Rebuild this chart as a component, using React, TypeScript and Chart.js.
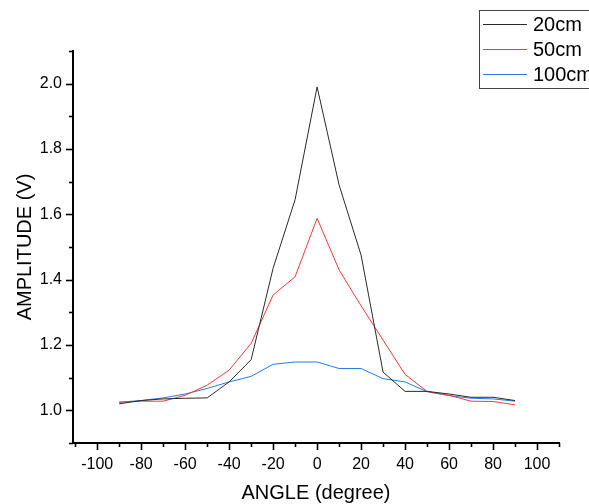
import React, { useEffect, useRef } from "react";
import { Chart, registerables } from "chart.js";

Chart.register(...registerables);

const angles = [-90, -80, -70, -60, -50, -40, -30, -20, -10, 0, 10, 20, 30, 40, 50, 60, 70, 80, 90];
const amp20cm = [1.02, 1.03, 1.035, 1.037, 1.038, 1.087, 1.155, 1.435, 1.645, 1.99, 1.69, 1.475, 1.117, 1.058, 1.058, 1.05, 1.04, 1.04, 1.03];
const amp50cm = [1.025, 1.028, 1.028, 1.046, 1.077, 1.123, 1.205, 1.353, 1.409, 1.588, 1.43, 1.32, 1.215, 1.11, 1.058, 1.046, 1.028, 1.027, 1.017];
const amp100cm = [1.025, 1.03, 1.038, 1.05, 1.067, 1.087, 1.104, 1.141, 1.148, 1.148, 1.128, 1.128, 1.097, 1.087, 1.057, 1.045, 1.037, 1.035, 1.028];

const seriesLabels = ["20cm", "50cm", "100cm"];
const seriesColors = ["#2a2a2a", "#f23a3a", "#2a7be8"];

const xMajorTicks = [-100, -80, -60, -40, -20, 0, 20, 40, 60, 80, 100];
const xMinorTicks = [-110, -90, -70, -50, -30, -10, 10, 30, 50, 70, 90, 110];
const yMajorTicks = [1.0, 1.2, 1.4, 1.6, 1.8, 2.0];
const yMinorTicks = [0.9, 1.1, 1.3, 1.5, 1.7, 1.9, 2.1];

const FONT = "'Liberation Sans', Arial, sans-serif";

const axisTicksPlugin = {
  id: "axisTicks",
  afterDraw(chart: any) {
    const { ctx, chartArea } = chart;
    const xs = chart.scales.x;
    const ys = chart.scales.y;
    ctx.save();
    ctx.strokeStyle = "#000";
    ctx.lineWidth = 1.6;
    const drawX = (vals: number[], len: number) => {
      vals.forEach((v) => {
        const px = Math.round(xs.getPixelForValue(v)) + 0.5;
        ctx.beginPath();
        ctx.moveTo(px, chartArea.bottom);
        ctx.lineTo(px, chartArea.bottom + len);
        ctx.stroke();
      });
    };
    const drawY = (vals: number[], len: number) => {
      vals.forEach((v) => {
        const py = Math.round(ys.getPixelForValue(v)) + 0.5;
        ctx.beginPath();
        ctx.moveTo(chartArea.left, py);
        ctx.lineTo(chartArea.left - len, py);
        ctx.stroke();
      });
    };
    drawX(xMajorTicks, 7);
    drawX(xMinorTicks, 4);
    drawY(yMajorTicks, 7);
    drawY(yMinorTicks, 4);
    ctx.restore();
  },
};

const legendBoxPlugin = {
  id: "legendBox",
  afterDraw(chart: any) {
    const { ctx } = chart;
    ctx.save();
    const left = 479.5;
    const top = 10.5;
    ctx.strokeStyle = "#444";
    ctx.lineWidth = 1;
    ctx.strokeRect(left, top, 140, 78);
    ctx.font = `20px ${FONT}`;
    ctx.textBaseline = "middle";
    ctx.textAlign = "left";
    chart.data.datasets.forEach((ds: any, i: number) => {
      const y = 24.5 + i * 25;
      ctx.strokeStyle = ds.borderColor;
      ctx.lineWidth = 1;
      ctx.beginPath();
      ctx.moveTo(483, y);
      ctx.lineTo(527, y);
      ctx.stroke();
      ctx.fillStyle = "#000";
      ctx.fillText(ds.label, 533, y + 1);
    });
    ctx.restore();
  },
};

export default function App() {
  const canvasRef = useRef<HTMLCanvasElement | null>(null);

  useEffect(() => {
    const canvas = canvasRef.current;
    if (!canvas) return;
    const seriesValues = [amp20cm, amp50cm, amp100cm];
    const chart = new Chart(canvas, {
      type: "line",
      data: {
        datasets: seriesValues.map((vals, i) => ({
          label: seriesLabels[i],
          data: angles.map((a, j) => ({ x: a, y: vals[j] })),
          borderColor: seriesColors[i],
          backgroundColor: seriesColors[i],
          borderWidth: 1,
          pointRadius: 0,
          tension: 0,
          fill: false,
        })),
      },
      options: {
        responsive: false,
        animation: false,
        layout: { padding: { top: 51, right: 30, left: 0, bottom: 0 } },
        plugins: {
          legend: { display: false },
          tooltip: { enabled: false },
        },
        scales: {
          x: {
            type: "linear",
            min: -111,
            max: 110,
            afterBuildTicks: (scale: any) => {
              scale.ticks = xMajorTicks.map((v) => ({ value: v }));
            },
            afterFit: (scale: any) => {
              scale.height = 61;
            },
            grid: { display: true, drawOnChartArea: false, drawTicks: false },
            border: { display: true, color: "#000", width: 2 },
            ticks: {
              color: "#000",
              padding: 12,
              maxRotation: 0,
              font: { family: FONT, size: 16 },
              callback: (v: any) => String(v),
            },
            title: {
              display: true,
              text: "ANGLE (degree)",
              color: "#000",
              font: { family: FONT, size: 20 },
              padding: { top: 0, bottom: -1 },
            },
          },
          y: {
            type: "linear",
            min: 0.9,
            max: 2.1,
            afterBuildTicks: (scale: any) => {
              scale.ticks = yMajorTicks.map((v) => ({ value: v }));
            },
            afterFit: (scale: any) => {
              scale.width = 73;
            },
            grid: { display: true, drawOnChartArea: false, drawTicks: false },
            border: { display: true, color: "#000", width: 2 },
            ticks: {
              color: "#000",
              padding: 11,
              font: { family: FONT, size: 16 },
              callback: (v: any) => Number(v).toFixed(1),
            },
            title: {
              display: true,
              text: "AMPLITUDE (V)",
              color: "#000",
              font: { family: FONT, size: 20 },
              padding: { top: 13, bottom: 0 },
            },
          },
        },
      },
      plugins: [axisTicksPlugin, legendBoxPlugin],
    });
    return () => chart.destroy();
  }, []);

  return (
    <div style={{ position: "fixed", left: 0, top: 0, width: 589, height: 504, background: "#fff" }}>
      <canvas ref={canvasRef} width={589} height={504} style={{ display: "block" }} />
    </div>
  );
}
